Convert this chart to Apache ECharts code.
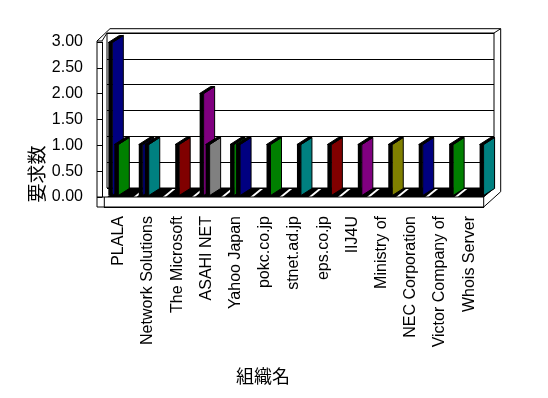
<!DOCTYPE html>
<html>
<head>
<meta charset="utf-8">
<script src="https://cdn.jsdelivr.net/npm/echarts@6/dist/echarts.min.js"></script>
<style>
  html, body { margin: 0; padding: 0; background: #fff; }
  #main { width: 548px; height: 398px; }
</style>
</head>
<body>
<div id="main"></div>
<script>
// 組織ごとの要求数 (3D 縦棒グラフ)
const categories = ['PLALA', 'Network Solutions', 'The Microsoft', 'ASAHI NET', 'Yahoo Japan',
  'pokc.co.jp', 'stnet.ad.jp', 'eps.co.jp', 'IIJ4U', 'Ministry of', 'NEC Corporation',
  'Victor Company of', 'Whois Server'];
// 奥側の棒
const backValues = [3, 1, 0, 2, 1, 0, 0, 0, 0, 0, 0, 0, 0];
const backColors = ['#000080', '#000080', '#000080', '#800080', '#008000', '#000080', '#000080',
  '#000080', '#000080', '#000080', '#000080', '#000080', '#000080'];
// 手前側の棒
const frontValues = [1, 1, 1, 1, 1, 1, 1, 1, 1, 1, 1, 1, 1];
const frontColors = ['#008000', '#008080', '#800000', '#808080', '#000080', '#008000', '#008080',
  '#800000', '#800080', '#808000', '#000080', '#008000', '#008080'];
const yMin = 0, yMax = 3, yStep = 0.5;

const FONT = '"Liberation Sans", Arial, sans-serif';
const CJK = '"Noto Sans CJK JP", sans-serif';
const DX = 11, DY = -7;   // 棒の奥行き
const BAR_W = 4;

function barRender(offset) {
  return function (params, api) {
    const v = api.value(1);
    if (!v) return null;
    const p0 = api.coord([api.value(0), 0]);
    const p1 = api.coord([api.value(0), v]);
    const x = p0[0] + offset, y0 = p0[1], y1 = p1[1];
    const color = api.visual('color');
    return {
      type: 'group',
      children: [
        { type: 'rect', shape: { x: x - BAR_W, y: y1, width: BAR_W, height: y0 - y1 },
          style: { fill: '#000' } },
        { type: 'polygon', shape: { points: [[x, y0], [x, y1], [x + DX, y1 + DY], [x + DX, y0 + DY]] },
          style: { fill: color, stroke: '#000', lineWidth: 1 } },
        { type: 'polygon', shape: { points: [[x - BAR_W, y1], [x, y1], [x + DX, y1 + DY], [x - BAR_W + DX, y1 + DY]] },
          style: { fill: '#000', stroke: '#000', lineWidth: 1 } }
      ]
    };
  };
}

function floorRender(params, api) {
  const p = api.coord([api.value(0), 1]);
  const w = api.size([1, 0])[0];
  const l = p[0] - w / 2 + 3, r = p[0] + w / 2;
  return {
    type: 'polygon',
    shape: { points: [[l, p[1]], [r, p[1]], [r + 11, p[1] - 9], [l + 11, p[1] - 9]] },
    style: { fill: '#000' }
  };
}

const line = (pts) => ({ type: 'polyline', shape: { points: pts }, style: { stroke: '#000', lineWidth: 1, fill: null }, silent: true });

const option = {
  animation: false,
  backgroundColor: '#fff',
  grid: [
    // 奥の壁
    { left: 107, right: 54, top: 33, bottom: 210, show: true, borderColor: '#000', borderWidth: 1, backgroundColor: '#fff' },
    // 手前の縦軸
    { left: 102, right: 54, top: 42, bottom: 201 },
    // 床の前面
    { left: 104.3, right: 64.3, top: 197, bottom: 191, show: true, borderColor: '#000', borderWidth: 1 },
    // 棒
    { left: 103.1, right: 49.2, top: 42.5, bottom: 202.5 }
  ],
  xAxis: [
    { gridIndex: 0, type: 'category', data: categories, show: false },
    { gridIndex: 1, type: 'category', data: categories, show: false },
    {
      gridIndex: 2, type: 'category', data: categories,
      axisLine: { lineStyle: { color: '#000', width: 1 } },
      axisTick: { inside: true, length: 10, lineStyle: { color: '#000' } },
      axisLabel: { rotate: 90, margin: 9, color: '#000', fontSize: 16, fontFamily: FONT, interval: 0 }
    },
    { gridIndex: 3, type: 'category', data: categories, show: false }
  ],
  yAxis: [
    {
      gridIndex: 0, type: 'value', min: yMin, max: yMax, interval: yStep,
      axisLine: { show: false }, axisTick: { show: false }, axisLabel: { show: false },
      splitLine: { lineStyle: { color: '#000', width: 1 } }
    },
    {
      gridIndex: 1, type: 'value', min: yMin, max: yMax, interval: yStep,
      axisLine: { show: true, lineStyle: { color: '#000', width: 1 } },
      axisTick: { show: true, length: 5, lineStyle: { color: '#000' } },
      axisLabel: { margin: 19, color: '#000', fontSize: 16, fontFamily: FONT,
        formatter: (v) => v.toFixed(2) },
      splitLine: { show: false }
    },
    { gridIndex: 2, type: 'value', min: 0, max: 1, show: false, splitLine: { show: false } },
    { gridIndex: 3, type: 'value', min: yMin, max: yMax, show: false, splitLine: { show: false } }
  ],
  series: [
    {
      type: 'custom', xAxisIndex: 2, yAxisIndex: 2,
      renderItem: floorRender,
      data: categories.map((c, i) => [i, 1]),
      z: 3
    },
    {
      type: 'custom', xAxisIndex: 3, yAxisIndex: 3,
      renderItem: barRender(-6),
      data: backValues.map((v, i) => ({ value: [i, v], itemStyle: { color: backColors[i] } })),
      z: 4
    },
    {
      type: 'custom', xAxisIndex: 3, yAxisIndex: 3,
      renderItem: barRender(0),
      data: frontValues.map((v, i) => ({ value: [i, v], itemStyle: { color: frontColors[i] } })),
      z: 5
    }
  ],
  graphic: [
    // 枠の立体部分
    line([[97, 207], [97, 41], [102, 41]]),
    line([[97, 41], [110, 28.7], [500.7, 28.7], [500.7, 191.7], [483.7, 207]]),
    line([[102, 41], [107, 33]]),
    line([[494, 33], [500.7, 28.7]]),
    line([[483.7, 197], [494, 188]]),
    line([[97, 197], [104.3, 197]]),
    line([[97, 207], [104.3, 207]]),
    {
      type: 'text', x: 37, y: 174, rotation: Math.PI / 2,
      style: { text: '要求数', fill: '#000', fontSize: 19, fontFamily: CJK,
        align: 'center', verticalAlign: 'middle' }
    },
    {
      type: 'text', x: 263, y: 376,
      style: { text: '組織名', fill: '#000', fontSize: 18, fontFamily: CJK,
        align: 'center', verticalAlign: 'middle' }
    }
  ]
};

const chart = echarts.init(document.getElementById('main'));
chart.setOption(option);
</script>
</body>
</html>
